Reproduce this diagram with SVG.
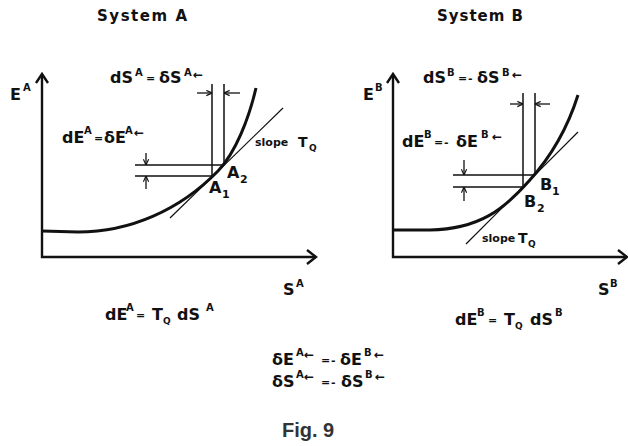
<svg xmlns="http://www.w3.org/2000/svg" width="628" height="446" viewBox="0 0 628 446">
<defs>
<style>
.t{font-family:"DejaVu Sans","Liberation Sans",sans-serif;font-weight:bold;font-size:16px;fill:#111}
.s{font-size:10px}
.e{font-size:11px}
.a{font-size:12px}
.sm{font-size:11px}
.sb{font-size:9px}
.axis{fill:none;stroke:#111;stroke-width:2.4}
.curve{fill:none;stroke:#111;stroke-width:3}
.thin{fill:none;stroke:#111;stroke-width:1.2}
.guide{fill:none;stroke:#111;stroke-width:1.5}
.dim{fill:none;stroke:#111;stroke-width:1.3;marker-end:url(#ah)}
.fig{font-family:"Liberation Sans",Arial,sans-serif;font-weight:bold;font-size:20px;fill:#333}
</style>
<marker id="ah" viewBox="0 0 8 8" refX="7.5" refY="4" markerWidth="7" markerHeight="7" orient="auto" markerUnits="userSpaceOnUse">
<path d="M1,1 L7.5,4 L1,7" fill="none" stroke="#111" stroke-width="1.3"/>
</marker>
</defs>

<g id="systemA">
<text class="t" x="97" y="21" textLength="90" lengthAdjust="spacing" style="font-size:15px">System A</text>
<path class="axis" d="M42,74 V257 H316"/>
<path class="axis" d="M36,83 L42,74 L48,83"/>
<path class="axis" d="M307,250 L316,257 L307,264"/>
<path class="curve" d="M42,231 L78,232 C130,232 180,210 218,171 C236,152 249,118 256,88"/>
<path class="thin" d="M170,218 L283,108"/>
<path class="guide" d="M212,84 V176 M224,84 V165 M135,165 H224 M135,176 H212"/>
<g id="arrowsA">
<path class="dim" d="M197,93 H212"/>
<path class="dim" d="M240,93 H224"/>
<path class="dim" d="M146,153 V165"/>
<path class="dim" d="M146,189 V176"/>
</g>
<text class="t"><tspan x="10" y="100">E</tspan><tspan class="s" x="23" y="91">A</tspan></text>
<text class="t"><tspan x="110" y="83">dS</tspan><tspan class="s" x="135" y="76">A</tspan><tspan class="e" x="146" y="82">=</tspan><tspan x="159" y="83">δS</tspan><tspan class="s" x="184" y="76">A</tspan><tspan class="a" x="193" y="79">←</tspan></text>
<text class="t"><tspan x="62" y="143">dE</tspan><tspan class="s" x="84" y="134">A</tspan><tspan class="e" x="94" y="142">=</tspan><tspan x="104" y="143">δE</tspan><tspan class="s" x="125" y="134">A</tspan><tspan class="a" x="134" y="137">←</tspan></text>
<text class="t"><tspan class="sm" x="255" y="146">slope</tspan><tspan style="font-size:14px" x="298" y="147">T</tspan><tspan class="sb" x="309" y="151">Q</tspan></text>
<text class="t"><tspan x="227" y="178">A</tspan><tspan class="sm" x="240" y="183">2</tspan></text>
<text class="t"><tspan x="209" y="193">A</tspan><tspan class="sm" x="222" y="198">1</tspan></text>
<text class="t"><tspan x="283" y="295">S</tspan><tspan class="s" x="296" y="287">A</tspan></text>
<text class="t"><tspan x="105" y="320">dE</tspan><tspan class="s" x="126" y="311">A</tspan><tspan class="e" x="136" y="319">=</tspan><tspan x="152" y="320">T</tspan><tspan class="sb" x="163" y="324">Q</tspan><tspan x="177" y="320">dS</tspan><tspan class="s" x="206" y="311">A</tspan></text>
</g>

<g id="systemB">
<text class="t" x="437" y="21" textLength="86" lengthAdjust="spacing" style="font-size:15px">System B</text>
<path class="axis" d="M393,74 V257 H627"/>
<path class="axis" d="M387,83 L393,74 L399,83"/>
<path class="axis" d="M618,250 L627,257 L618,264"/>
<path class="curve" d="M393,230 L430,230 C480,229 504,209 529,181 C549,159 567,130 578,95"/>
<path class="thin" d="M466,244 L578,132"/>
<path class="guide" d="M523,93 V187 M535,93 V175 M453,175 H535 M453,187 H523"/>
<g id="arrowsB">
<path class="dim" d="M510,104 H523"/>
<path class="dim" d="M550,104 H535"/>
<path class="dim" d="M464,160 V175"/>
<path class="dim" d="M464,201 V187"/>
</g>
<text class="t"><tspan x="363" y="100">E</tspan><tspan class="s" x="375" y="91">B</tspan></text>
<text class="t"><tspan x="423" y="83">dS</tspan><tspan class="s" x="447" y="76">B</tspan><tspan class="e" x="458" y="82">=</tspan><tspan class="e" x="468" y="82">-</tspan><tspan x="477" y="83">δS</tspan><tspan class="s" x="502" y="76">B</tspan><tspan class="a" x="512" y="79">←</tspan></text>
<text class="t"><tspan x="402" y="147">dE</tspan><tspan class="s" x="424" y="138">B</tspan><tspan class="e" x="434" y="146">=</tspan><tspan class="e" x="444" y="146">-</tspan><tspan x="456" y="147">δE</tspan><tspan class="s" x="481" y="138">B</tspan><tspan class="a" x="492" y="141">←</tspan></text>
<text class="t"><tspan class="sm" x="482" y="242">slope</tspan><tspan style="font-size:14px" x="518" y="243">T</tspan><tspan class="sb" x="528" y="247">Q</tspan></text>
<text class="t"><tspan x="540" y="190">B</tspan><tspan class="sm" x="552" y="195">1</tspan></text>
<text class="t"><tspan x="524" y="207">B</tspan><tspan class="sm" x="537" y="212">2</tspan></text>
<text class="t"><tspan x="598" y="295">S</tspan><tspan class="s" x="610" y="287">B</tspan></text>
<text class="t"><tspan x="455" y="325">dE</tspan><tspan class="s" x="477" y="316">B</tspan><tspan class="e" x="488" y="324">=</tspan><tspan x="504" y="325">T</tspan><tspan class="sb" x="515" y="329">Q</tspan><tspan x="530" y="325">dS</tspan><tspan class="s" x="555" y="316">B</tspan></text>
</g>

<g id="equations">
<text class="t"><tspan x="272" y="365">δE</tspan><tspan class="s" x="296" y="356">A</tspan><tspan class="a" x="304" y="359">←</tspan><tspan class="e" x="321" y="364">=</tspan><tspan class="e" x="331" y="364">-</tspan><tspan x="340" y="365">δE</tspan><tspan class="s" x="364" y="356">B</tspan><tspan class="a" x="374" y="359">←</tspan></text>
<text class="t"><tspan x="272" y="387">δS</tspan><tspan class="s" x="296" y="378">A</tspan><tspan class="a" x="304" y="381">←</tspan><tspan class="e" x="321" y="386">=</tspan><tspan class="e" x="331" y="386">-</tspan><tspan x="341" y="387">δS</tspan><tspan class="s" x="365" y="378">B</tspan><tspan class="a" x="375" y="381">←</tspan></text>
</g>

<g id="caption">
<text class="fig" x="282" y="437">Fig. 9</text>
</g>
</svg>
